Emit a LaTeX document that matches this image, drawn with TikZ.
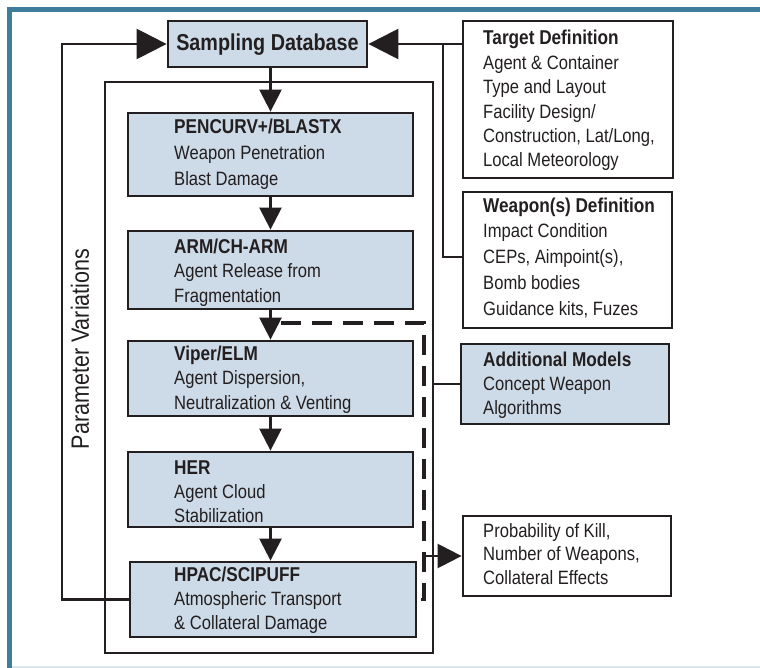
\documentclass[tikz,border=0pt]{standalone}
\usepackage{fontspec}
\setmainfont{Liberation Sans}[FakeStretch=0.86]
\usetikzlibrary{arrows.meta}
\definecolor{frameblue}{RGB}{62,125,155}
\definecolor{boxfill}{RGB}{205,218,231}
\definecolor{ink}{RGB}{35,31,32}
\definecolor{edgegrey}{RGB}{220,230,238}
\newcommand\hdr[1]{{\bfseries\fontsize{20pt}{\baselineskip}\selectfont #1}}
\begin{document}
\begin{tikzpicture}[x=1pt,y=-1pt,line join=miter,
  mbox/.style={draw=ink,line width=2.8pt,fill=boxfill,inner sep=0pt},
  wbox/.style={draw=ink,line width=2.8pt,fill=white,inner sep=0pt},
  frm/.style={draw=ink,line width=2.6pt,inner sep=0pt},
  conn/.style={draw=ink,line width=2.5pt},
  bigarr/.style={conn,-{Triangle[length=30pt,width=30pt]}},
  downarr/.style={conn,-{Triangle[length=22pt,width=22pt]}},
  outarr/.style={conn,-{Triangle[length=24pt,width=24pt]}},
  dashline/.style={draw=ink,line width=3.3pt,dash pattern=on 20pt off 11pt},
  txt/.style={inner sep=0pt,anchor=base west,align=left,text=ink,font=\fontsize{19.3pt}{#1}\selectfont},
  txt/.default=24.5pt]
\useasboundingbox (0,0) rectangle (760,668);
\fill[white] (0,0) rectangle (760,668);
% frame
\fill[frameblue] (7,7) rectangle (760,12);
\fill[frameblue] (7,7) rectangle (12,668);
\fill[edgegrey] (12,666) rectangle (760,668);

% inner frame
\node[frm,minimum width=328pt,minimum height=571pt] (inner) at (269,367.5) {};

% boxes (drawn as nodes)
\node[mbox,minimum width=199pt,minimum height=46pt] (sd) at (267.5,44) {};
\node[mbox,minimum width=285pt,minimum height=83pt] (pen) at (270.5,154.5) {};
\node[mbox,minimum width=285pt,minimum height=78pt] (arm) at (270.5,270) {};
\node[mbox,minimum width=285pt,minimum height=75pt] (vip) at (270.5,378.5) {};
\node[mbox,minimum width=285pt,minimum height=75pt] (her) at (270.5,489.5) {};
\node[mbox,minimum width=286pt,minimum height=75pt] (hpac) at (273,599.5) {};
\node[wbox,minimum width=210pt,minimum height=157pt] (tgt) at (568,99.5) {};
\node[wbox,minimum width=209pt,minimum height=136pt] (wpn) at (567.5,260) {};
\node[mbox,minimum width=208pt,minimum height=80pt] (add) at (565,384) {};
\node[wbox,minimum width=208pt,minimum height=80pt] (res) at (567,556) {};

% connector coordinates
\coordinate (fbc) at (62,44);
\coordinate (tj) at (443,44);
\coordinate (d1) at (281,323);
\coordinate (d3) at (424,599.5);
\coordinate (d4) at (424,556);

% connectors
\draw[downarr] (sd.south -| pen.north) -- (pen.north);
\draw[downarr] (pen.south) -- (arm.north);
\draw[downarr] (arm.south) -- (vip.north);
\draw[downarr] (vip.south) -- (her.north);
\draw[downarr] (her.south) -- (her.south |- hpac.north);
\draw[bigarr] (hpac.west) -| (fbc) -- (sd.west);
\draw[bigarr] (tgt.west |- sd.east) -- (sd.east);
\draw[conn] (tj) |- ([yshift=3pt]wpn.west);
\draw[conn] (inner.east |- add.west) -- (add.west);
\draw[dashline] (d1) -| (d3) -- (hpac.east);
\draw[outarr] (d4) -- (res.west);

% texts (anchored at the baseline of the last line)
\node[inner sep=0pt,anchor=base,text=ink,font=\bfseries\fontsize{23pt}{28pt}\selectfont] (sdt) at (267.5,51) {Sampling Database};
\node[txt=26pt] (pent) at (174,186) {\hdr{PENCURV+/BLASTX}\\Weapon Penetration\\Blast Damage};
\node[txt] (armt) at (174,302) {\hdr{ARM/CH-ARM}\\Agent Release from\\Fragmentation};
\node[txt] (vipt) at (174,409) {\hdr{Viper/ELM}\\Agent Dispersion,\\Neutralization \& Venting};
\node[txt=24pt] (hert) at (174,522) {\hdr{HER}\\Agent Cloud\\Stabilization};
\node[txt=24pt] (hpact) at (174,629) {\hdr{HPAC/SCIPUFF}\\Atmospheric Transport\\\& Collateral Damage};
\node[txt=24.4pt] (tgtt) at (483,167) {\hdr{Target Definition}\\Agent \& Container\\Type and Layout\\Facility Design/\\Construction, Lat/Long,\\Local Meteorology};
\node[txt=25.7pt] (wpnt) at (483,315) {\hdr{Weapon(s) Definition}\\Impact Condition\\CEPs, Aimpoint(s),\\Bomb bodies\\Guidance kits, Fuzes};
\node[txt=24pt] (addt) at (483,414) {\hdr{Additional Models}\\Concept Weapon\\Algorithms};
\node[txt=23.5pt] (rest) at (483,584) {Probability of Kill,\\Number of Weapons,\\Collateral Effects};
\node[inner sep=0pt,rotate=90,text=ink,font=\fontsize{25pt}{30pt}\selectfont] (pv) at (80,349) {Parameter Variations};
\end{tikzpicture}
\end{document}
